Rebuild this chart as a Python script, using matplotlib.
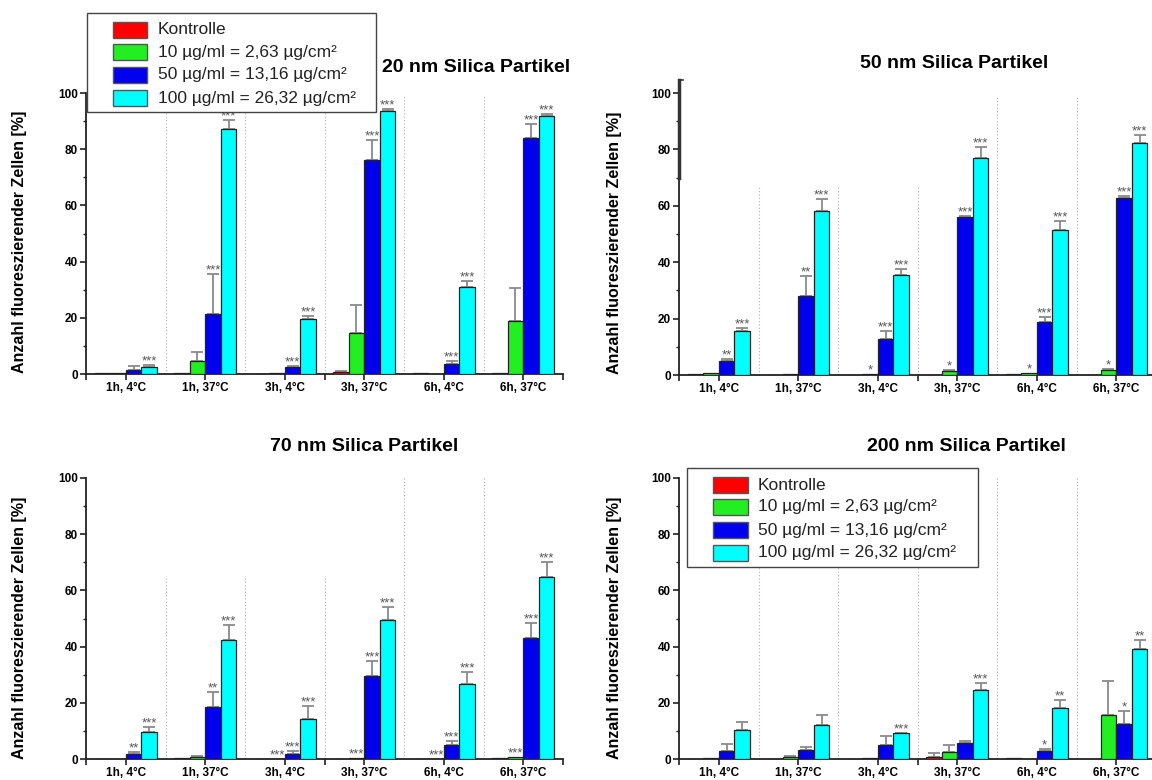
import matplotlib
matplotlib.use("Agg")
import matplotlib.pyplot as plt
from matplotlib.patches import Rectangle
import numpy as np

plt.rcParams['font.family'] = ['Liberation Sans', 'DejaVu Sans']

# categories and series
groups = ['1h, 4°C', '1h, 37°C', '3h, 4°C', '3h, 37°C', '6h, 4°C', '6h, 37°C']
series = ['Kontrolle', '10 µg/ml = 2,63 µg/cm²', '50 µg/ml = 13,16 µg/cm²', '100 µg/ml = 26,32 µg/cm²']
colors = ['#ff0000', '#22ee22', '#0000ee', '#00ffff']
titles = ['20 nm Silica Partikel', '50 nm Silica Partikel', '70 nm Silica Partikel', '200 nm Silica Partikel']

# 20 nm: mean, upper error, significance (rows = series)
mean_20 = [[0.3, 0.3, 0.1, 0.8, 0.2, 0.2],
           [0.2, 4.7, 0.2, 14.6, 0.1, 19.0],
           [1.5, 21.5, 2.4, 76.0, 3.7, 83.9],
           [2.5, 87.2, 19.6, 93.5, 30.8, 91.7]]
err_20 = [[0, 0, 0, 0.4, 0, 0],
          [0, 3.1, 0, 10.0, 0, 11.7],
          [1.3, 14.2, 0.4, 7.3, 0.9, 5.1],
          [0.6, 3.1, 1.0, 0.9, 2.3, 0.8]]
sig_20 = [['', '', '', '', '', ''],
          ['', '', '', '', '', ''],
          ['', '***', '***', '***', '***', '***'],
          ['***', '***', '***', '***', '***', '***']]

# 50 nm
mean_50 = [[0.2, 0.1, 0.1, 0.1, 0.2, 0.1],
           [0.6, 0.5, 0.3, 1.3, 0.8, 1.9],
           [4.8, 28.0, 12.9, 56.1, 18.9, 62.8],
           [15.5, 58.0, 35.4, 76.8, 51.3, 82.4]]
err_50 = [[0, 0, 0, 0, 0, 0],
          [0, 0, 0, 0.5, 0, 0.4],
          [0.7, 7.2, 2.8, 0.2, 1.5, 0.8],
          [1.3, 4.5, 2.2, 4.0, 3.3, 2.8]]
sig_50 = [['', '', '', '', '', ''],
          ['', '', '*', '*', '*', '*'],
          ['**', '**', '***', '***', '***', '***'],
          ['***', '***', '***', '***', '***', '***']]

# 70 nm
mean_70 = [[0.1, 0.3, 0.1, 0.1, 0.1, 0.2],
           [0.1, 0.7, 0.1, 0.3, 0.1, 0.7],
           [1.9, 18.5, 1.8, 29.4, 4.9, 43.2],
           [9.6, 42.2, 14.4, 49.5, 26.8, 64.7]]
err_70 = [[0, 0, 0, 0, 0, 0],
          [0, 0.5, 0, 0, 0, 0],
          [0.5, 5.2, 0.9, 5.3, 1.4, 5.1],
          [1.9, 5.4, 4.4, 4.5, 4.0, 5.3]]
sig_70 = [['', '', '', '', '', ''],
          ['', '', '***', '***', '***', '***'],
          ['**', '**', '***', '***', '***', '***'],
          ['***', '***', '***', '***', '***', '***']]

# 200 nm
mean_200 = [[0.1, 0.1, 0.1, 0.8, 0.2, 0.0],
            [0.2, 0.7, 0.2, 2.5, 0.1, 15.6],
            [3.0, 3.3, 5.0, 5.7, 2.7, 12.4],
            [10.3, 12.0, 9.2, 24.6, 18.1, 39.0]]
err_200 = [[0, 0, 0, 1.2, 0, 0],
           [0, 0.4, 0, 2.4, 0, 12.1],
           [2.2, 1.1, 3.1, 0.7, 0.8, 4.6],
           [2.8, 3.6, 0.2, 2.3, 2.8, 3.3]]
sig_200 = [['', '', '', '', '', ''],
           ['', '', '', '', '', ''],
           ['', '', '', '', '*', '*'],
           ['', '', '***', '***', '**', '**']]

W, H = 1152, 780
fig = plt.figure(figsize=(W / 100, H / 100), dpi=100)


def fx(x):
    return x / W


def fy(y):
    return 1 - y / H


def box(x0, y0, x1, y1):
    return [fx(x0), fy(y1), (x1 - x0) / W, (y1 - y0) / H]


panels = [
    (mean_20, err_20, sig_20, box(86, 93, 563, 374), [99] * 5),
    (mean_50, err_50, sig_50, box(679, 93, 1156, 375), [67.4, 67.4, 67.4, 99.4, 99.4]),
    (mean_70, err_70, sig_70, box(86, 478, 563, 759), [64.4, 64.4, 64.4, 100, 100]),
    (mean_200, err_200, sig_200, box(679, 478, 1156, 759), [100] * 5),
]
title_pos = [(476, 67), (954, 63), (364, 447), (966, 447)]
ylabel_pos = [(20, 242), (615, 243), (20, 628), (615, 628)]

centers = np.arange(len(groups)) + 0.5
w = 0.195
axes = []
for k, (means, errs, sigs, rect, sep_tops) in enumerate(panels):
    ax = fig.add_axes(rect)
    axes.append(ax)
    # dotted group separators
    ax.vlines(np.arange(1, len(groups)), 0, sep_tops, colors='#b0b0b0',
              linestyles=(0, (1, 2)), lw=0.8, zorder=1)
    for i in range(len(series)):
        x = centers + (i - 1.5) * w
        m = np.array(means[i])
        e = np.array(errs[i])
        ax.bar(x, m, w, color=colors[i], edgecolor='#222222', linewidth=0.9, zorder=3)
        ok = e > 0
        if ok.any():
            ax.errorbar(x[ok], m[ok], yerr=[np.zeros(ok.sum()), e[ok]], fmt='none',
                        ecolor='#8a8a8a', elinewidth=1.3, capsize=4.5, capthick=1.3, zorder=2)
        for j, s in enumerate(sigs[i]):
            if s:
                ax.text(x[j], m[j] + e[j] + 0.2, s, ha='center', va='baseline',
                        fontsize=9.5, color='#555555', zorder=4)
    ax.set_xlim(0, 6)
    ax.set_ylim(0, 100)
    ax.set_xticks(centers)
    ax.set_xticklabels(groups, fontsize=8.5, fontweight='bold')
    ax.set_xticks([0, 3, 6], minor=True)
    ax.set_yticks(np.arange(0, 101, 20))
    ax.set_yticks(np.arange(10, 100, 20), minor=True)
    ax.set_yticklabels([str(v) for v in range(0, 101, 20)], fontsize=8.5, fontweight='bold')
    ax.tick_params(which='major', direction='out', length=4, width=1.2, pad=2, color='#222222')
    ax.tick_params(which='minor', direction='out', length=2.5, width=1.0, color='#222222')
    ax.tick_params(axis='x', which='minor', length=4, width=1.2)
    for side in ['top', 'right']:
        ax.spines[side].set_visible(False)
    for side in ['left', 'bottom']:
        ax.spines[side].set_linewidth(1.3)
        ax.spines[side].set_color('#222222')
    ax.patch.set_alpha(0)
    fig.text(fx(title_pos[k][0]), fy(title_pos[k][1]), titles[k], ha='center', va='center',
             fontsize=14, fontweight='bold')
    fig.text(fx(ylabel_pos[k][0]), fy(ylabel_pos[k][1]), 'Anzahl fluoreszierender Zellen [%]',
             ha='center', va='center', rotation=90, fontsize=11.5, fontweight='bold')

# stray thick axis segment on the 50 nm panel
axes[1].plot([0, 0], [69.8, 104.7], color='#333333', lw=2.5, clip_on=False, zorder=5)
axes[1].plot([0, 0.05], [104.7, 104.7], color='#333333', lw=1.2, clip_on=False, zorder=5)


def draw_legend(x0, y0, x1, y1, px0, px1, tx, rows):
    fig.add_artist(Rectangle((fx(x0), fy(y1)), (x1 - x0) / W, (y1 - y0) / H,
                             transform=fig.transFigure, facecolor='white',
                             edgecolor='#444444', linewidth=1.0, zorder=10))
    for i, yy in enumerate(rows):
        fig.add_artist(Rectangle((fx(px0), fy(yy + 8)), (px1 - px0) / W, 16 / H,
                                 transform=fig.transFigure, facecolor=colors[i],
                                 edgecolor='#555555', linewidth=1.0, zorder=11))
        fig.text(fx(tx), fy(yy), series[i], ha='left', va='center', fontsize=12.5,
                 color='#222222', zorder=12)


draw_legend(87, 13, 376, 112, 113, 147, 158, [30, 52, 75, 98])
draw_legend(687, 468, 978, 567, 713, 748, 758, [485, 507, 530, 553])

fig.savefig('out.png', dpi=100)
